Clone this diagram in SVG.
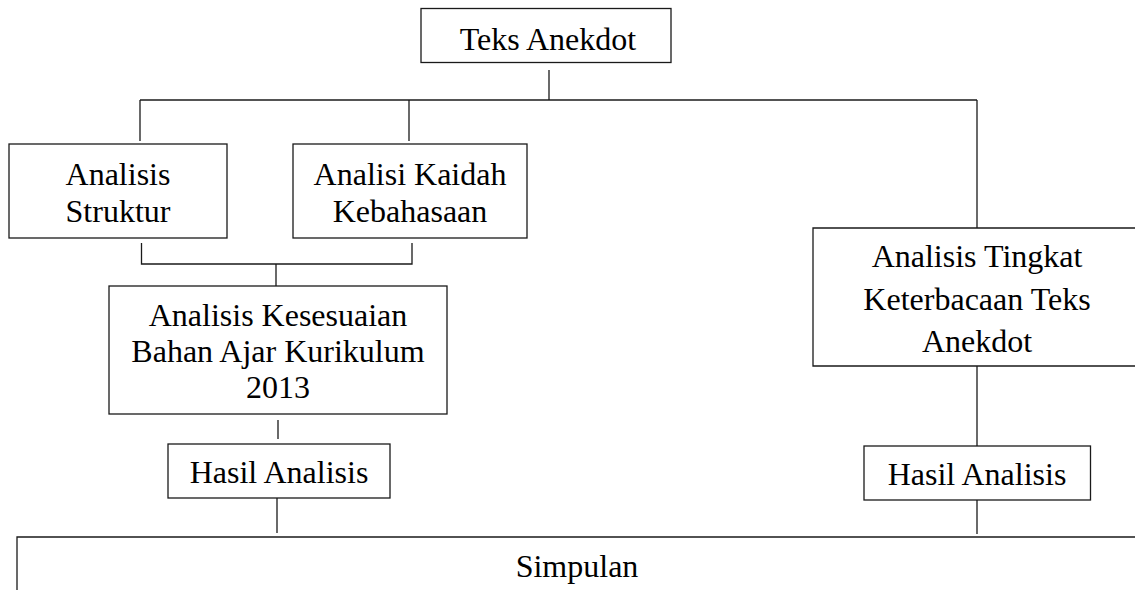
<svg xmlns="http://www.w3.org/2000/svg" width="1135" height="590" viewBox="0 0 1135 590">
  <style>
    .box { fill: #ffffff; stroke: #1a1a1a; stroke-width: 1.3; }
    .edge { fill: none; stroke: #1a1a1a; stroke-width: 1.3; }
    .lbl { font-family: "Liberation Serif", "Times New Roman", serif; font-size: 32px; fill: #000; text-anchor: middle; }
  </style>
  <rect width="1135" height="590" fill="#ffffff"/>
  <g id="connectors">
    <path class="edge" d="M549 70 V100"/>
    <path class="edge" d="M140 100 H977"/>
    <path class="edge" d="M140 100 V141"/>
    <path class="edge" d="M409 100 V141"/>
    <path class="edge" d="M977 100 V228"/>
    <path class="edge" d="M141.5 243 V264 H412 V243"/>
    <path class="edge" d="M276 264 V286"/>
    <path class="edge" d="M278 420 V439"/>
    <path class="edge" d="M277 498 V533"/>
    <path class="edge" d="M977 366 V446"/>
    <path class="edge" d="M977 500 V534"/>
  </g>
  <g id="teks-anekdot">
    <rect class="box" x="421" y="8.5" width="250" height="54"/>
    <text class="lbl" x="548" y="50">Teks Anekdot</text>
  </g>
  <g id="analisis-struktur">
    <rect class="box" x="9" y="144" width="218" height="94"/>
    <text class="lbl" x="118" y="185">Analisis</text>
    <text class="lbl" x="118" y="222">Struktur</text>
  </g>
  <g id="analisi-kaidah">
    <rect class="box" x="293" y="144" width="234" height="94"/>
    <text class="lbl" x="410" y="185">Analisi Kaidah</text>
    <text class="lbl" x="410" y="222">Kebahasaan</text>
  </g>
  <g id="analisis-kesesuaian">
    <rect class="box" x="109" y="286" width="338" height="128"/>
    <text class="lbl" x="278" y="326">Analisis Kesesuaian</text>
    <text class="lbl" x="278" y="362">Bahan Ajar Kurikulum</text>
    <text class="lbl" x="278" y="398">2013</text>
  </g>
  <g id="hasil-analisis-1">
    <rect class="box" x="168" y="444" width="222" height="54"/>
    <text class="lbl" x="279" y="483">Hasil Analisis</text>
  </g>
  <g id="analisis-tingkat">
    <path class="box" d="M1140 228 H813 V366 H1140"/>
    <text class="lbl" x="977" y="267">Analisis Tingkat</text>
    <text class="lbl" x="977" y="310">Keterbacaan Teks</text>
    <text class="lbl" x="977" y="352">Anekdot</text>
  </g>
  <g id="hasil-analisis-2">
    <rect class="box" x="864" y="446" width="226.5" height="54"/>
    <text class="lbl" x="977" y="485">Hasil Analisis</text>
  </g>
  <g id="simpulan">
    <path class="box" d="M17 600 V537 H1140"/>
    <text class="lbl" x="577" y="577">Simpulan</text>
  </g>
</svg>
